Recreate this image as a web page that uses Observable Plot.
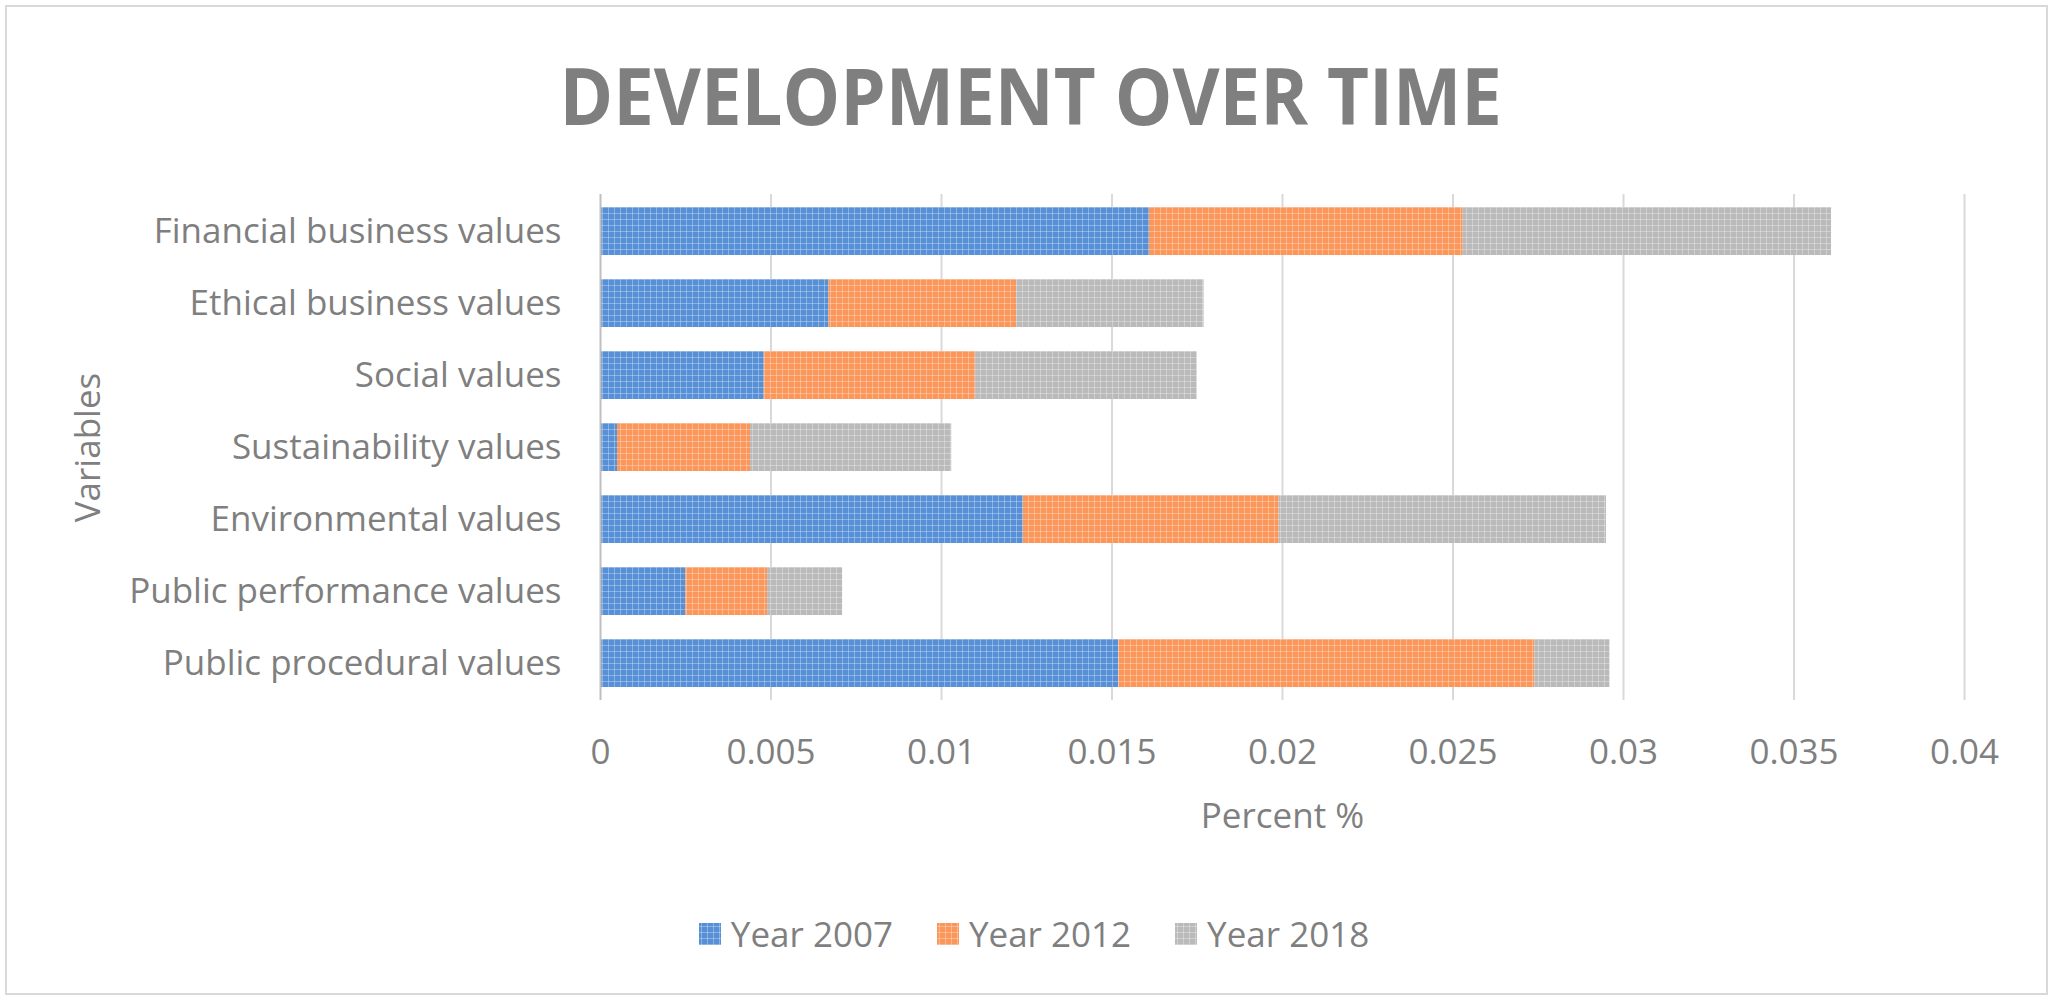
<!DOCTYPE html>
<html>
<head>
<meta charset="utf-8">
<script src="https://cdn.jsdelivr.net/npm/d3@7"></script>
<script src="https://cdn.jsdelivr.net/npm/@observablehq/plot@0.6"></script>
<style>
  html, body { margin: 0; padding: 0; background: #fff; }
  #wrap { position: relative; width: 2057px; height: 1004px; overflow: hidden; font-family: "Open Sans", sans-serif; color: #7f7f7f; }
  #frame { position: absolute; left: 5px; top: 5px; width: 2043px; height: 990px; border: 2px solid #d9d9d9; box-sizing: border-box; }
  #title { position: absolute; left: 0; width: 2057px; top: 40px; text-align: center; font-weight: 700; font-size: 78px; line-height: 110px; color: #7f7f7f; }
  #title span { display: inline-block; transform: scaleX(0.93); transform-origin: center; margin-left: 4px; }
  #chart { position: absolute; left: 0; top: 0; }
  #legend { position: absolute; left: 0; width: 2068px; top: 910px; display: flex; justify-content: center; align-items: center; gap: 44px; font-size: 35px; color: #7f7f7f; }
  .item { display: flex; align-items: center; gap: 10px; }
  .sw { width: 22px; height: 22px; display: block; }
</style>
</head>
<body>
<div id="wrap">
  <div id="frame"></div>
  <div id="title"><span>DEVELOPMENT OVER TIME</span></div>
  <div id="chart"></div>
  <div id="legend"></div>
</div>
<script>
const categories = [
  "Financial business values",
  "Ethical business values",
  "Social values",
  "Sustainability values",
  "Environmental values",
  "Public performance values",
  "Public procedural values"
];
const seriesNames = ["Year 2007", "Year 2012", "Year 2018"];
const year2007 = [0.0161, 0.0067, 0.0048, 0.0005, 0.0124, 0.0025, 0.0152];
const year2012 = [0.0092, 0.0055, 0.0062, 0.0039, 0.0075, 0.0024, 0.0122];
const year2018 = [0.0108, 0.0055, 0.0065, 0.0059, 0.0096, 0.0022, 0.0022];
const xTicks = [0, 0.005, 0.01, 0.015, 0.02, 0.025, 0.03, 0.035, 0.04];
const seriesColors = ["#5790d6", "#fb975b", "#bababa"];
const patternIds = ["pat2007", "pat2012", "pat2018"];

const seriesValues = [year2007, year2012, year2018];
const rows = [];
categories.forEach((c, i) => {
  seriesNames.forEach((s, j) => {
    rows.push({category: c, series: s, value: seriesValues[j][i]});
  });
});

const plot = Plot.plot({
  width: 2057,
  height: 880,
  marginLeft: 600,
  marginRight: 93,
  marginTop: 194,
  marginBottom: 180,
  style: {fontFamily: "'Open Sans', sans-serif", fontSize: "35px", color: "#7f7f7f", background: "transparent"},
  x: {domain: [0, 0.04], label: null},
  y: {domain: categories, paddingInner: 0.336, paddingOuter: 0.168, label: null},
  color: {domain: seriesNames, range: patternIds.map(id => `url(#${id})`)},
  marks: [
    Plot.ruleX(xTicks.slice(1), {stroke: "#d9d9d9", strokeWidth: 2}),
    Plot.barX(rows, Plot.stackX({x: "value", y: "category", fill: "series"})),
    Plot.ruleX([0], {stroke: "#bfbfbf", strokeWidth: 2}),
    Plot.axisX({ticks: xTicks, tickSize: 0, tickPadding: 39, tickFormat: d => String(d), label: null}),
    Plot.axisY({tickSize: 0, tickPadding: 39, label: null}),
    Plot.text(["Percent %"], {frameAnchor: "bottom", dy: 116, lineAnchor: "middle", fontSize: 35, fill: "#7f7f7f"}),
    Plot.text(["Variables"], {x: () => 0, frameAnchor: "middle", dx: -512, rotate: -90, lineAnchor: "middle", fontSize: 35, fill: "#7f7f7f"})
  ]
});

// texture patterns resembling the reference's dotted grid fill
const ns = "http://www.w3.org/2000/svg";
const defs = document.createElementNS(ns, "defs");
patternIds.forEach((id, j) => {
  const p = document.createElementNS(ns, "pattern");
  p.setAttribute("id", id);
  p.setAttribute("patternUnits", "userSpaceOnUse");
  p.setAttribute("width", "6");
  p.setAttribute("height", "6");
  const base = document.createElementNS(ns, "rect");
  base.setAttribute("width", "6"); base.setAttribute("height", "6");
  base.setAttribute("fill", seriesColors[j]);
  p.appendChild(base);
  const v = document.createElementNS(ns, "rect");
  v.setAttribute("x", "2"); v.setAttribute("width", "1"); v.setAttribute("height", "6");
  v.setAttribute("fill", "#fff"); v.setAttribute("fill-opacity", "0.3");
  p.appendChild(v);
  const h = document.createElementNS(ns, "rect");
  h.setAttribute("y", "3"); h.setAttribute("width", "6"); h.setAttribute("height", "1");
  h.setAttribute("fill", "#fff"); h.setAttribute("fill-opacity", "0.3");
  p.appendChild(h);
  defs.appendChild(p);
});
plot.insertBefore(defs, plot.firstChild);
document.getElementById("chart").appendChild(plot);

const legend = document.getElementById("legend");
seriesNames.forEach((s, j) => {
  const it = document.createElement("div");
  it.className = "item";
  const sw = document.createElementNS(ns, "svg");
  sw.setAttribute("class", "sw");
  sw.setAttribute("width", "22"); sw.setAttribute("height", "22");
  const r = document.createElementNS(ns, "rect");
  r.setAttribute("width", "22"); r.setAttribute("height", "22");
  r.setAttribute("fill", `url(#${patternIds[j]})`);
  sw.appendChild(r);
  const t = document.createElement("span");
  t.textContent = s;
  it.appendChild(sw);
  it.appendChild(t);
  legend.appendChild(it);
});
</script>
</body>
</html>
